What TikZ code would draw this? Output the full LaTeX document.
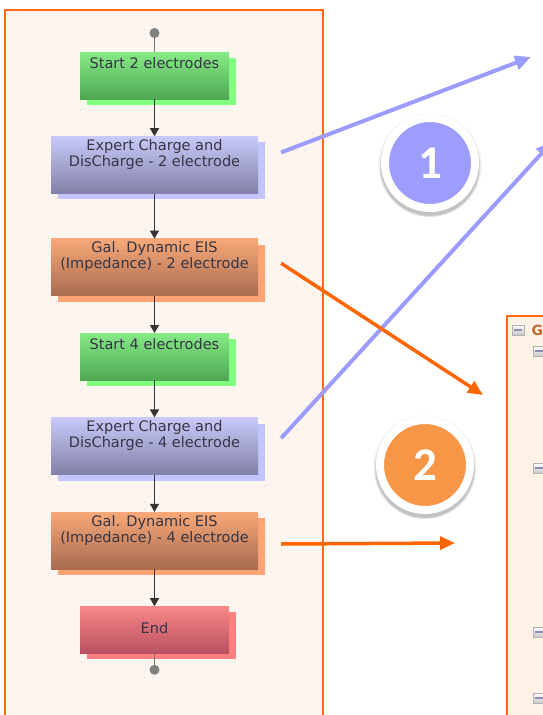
\documentclass[tikz,border=0pt]{standalone}
\usepackage{fontspec}
\setmainfont{DejaVu Sans}
\newfontfamily\badgefont{Carlito}
\usetikzlibrary{positioning,arrows.meta,shadows}

\definecolor{panelline}{HTML}{FF6A10}
\definecolor{panelfill}{HTML}{FDF6F0}
\definecolor{griddot}{HTML}{D9CFC8}
\definecolor{boxtext}{HTML}{353545}
\definecolor{greentop}{HTML}{86EA86}
\definecolor{greenbot}{HTML}{4FA852}
\definecolor{greenshade}{HTML}{80FF80}
\definecolor{bluetop}{HTML}{CACAFA}
\definecolor{bluebot}{HTML}{8080A8}
\definecolor{blueshade}{HTML}{C4C4FF}
\definecolor{orangetop}{HTML}{F8A878}
\definecolor{orangebot}{HTML}{A86C50}
\definecolor{orangeshade}{HTML}{FFA474}
\definecolor{redtop}{HTML}{F88888}
\definecolor{redbot}{HTML}{B85060}
\definecolor{redshade}{HTML}{FF8080}
\definecolor{linkblue}{HTML}{9C9CFF}
\definecolor{linkorange}{HTML}{FF6600}
\definecolor{badgeblue}{HTML}{9D9DFF}
\definecolor{badgeorange}{HTML}{F79646}
\definecolor{treefill}{HTML}{FEF2E7}
\definecolor{treetext}{HTML}{C0682A}

\tikzstyle{panel}=[draw=panelline,line width=2pt,fill=panelfill]
\tikzstyle{treepanel}=[draw=panelline,line width=2pt,fill=treefill]
\tikzstyle{box}=[rectangle,inner sep=0pt,align=center,text=boxtext,
   font=\fontsize{14.5}{16}\selectfont]
\tikzstyle{smallbox}=[box,minimum width=149pt,text height=16pt,text depth=31pt]
\tikzstyle{widebox}=[box,minimum width=207pt,text height=30pt,text depth=27pt]
\tikzstyle{gbox}=[smallbox,top color=greentop,bottom color=greenbot,
   drop shadow={shadow xshift=7pt,shadow yshift=-6pt,opacity=1,fill=greenshade}]
\tikzstyle{bbox}=[widebox,top color=bluetop,bottom color=bluebot,
   drop shadow={shadow xshift=7pt,shadow yshift=-6pt,opacity=1,fill=blueshade}]
\tikzstyle{obox}=[widebox,top color=orangetop,bottom color=orangebot,
   drop shadow={shadow xshift=7pt,shadow yshift=-6pt,opacity=1,fill=orangeshade}]
\tikzstyle{rbox}=[box,minimum width=149pt,text height=27pt,text depth=20pt,
   top color=redtop,bottom color=redbot,
   drop shadow={shadow xshift=7pt,shadow yshift=-6pt,opacity=1,fill=redshade}]
\tikzstyle{pin}=[circle,fill=black!50,minimum size=10pt,inner sep=0pt]
\tikzstyle{wire}=[draw=black!55,line width=1.3pt]
\tikzstyle{flow}=[draw=black!80,line width=1.3pt,-{Triangle[length=8pt,width=9pt]}]
\tikzstyle{bluelink}=[draw=linkblue,line width=4pt,-{Triangle[length=16pt,width=14pt]}]
\tikzstyle{orangelink}=[draw=linkorange,line width=3.5pt,-{Triangle[length=15pt,width=13pt]}]
\tikzstyle{badge}=[circle,draw=white,line width=8pt,minimum size=90pt,inner sep=0pt,
   text=white,font=\badgefont\bfseries\fontsize{47}{47}\selectfont,
   drop shadow={shadow xshift=0pt,shadow yshift=-2pt,shadow scale=1.15,
   opacity=0.05,fill=black},
   drop shadow={shadow xshift=0pt,shadow yshift=-3pt,shadow scale=1.12,
   opacity=0.08,fill=black},
   drop shadow={shadow xshift=0pt,shadow yshift=-3pt,shadow scale=1.10,
   opacity=0.12,fill=black}]
\tikzstyle{fold}=[rectangle,draw=black!30,top color=white,bottom color=black!22,
   minimum width=12pt,minimum height=10pt,inner sep=0pt,
   path picture={\draw[draw=blue!35!black!45,line width=1.2pt]
      ([xshift=2pt]path picture bounding box.west) --
      ([xshift=-2pt]path picture bounding box.east);}]

\begin{document}
\begin{tikzpicture}[x=1pt,y=-1pt,node distance=37pt]

   \useasboundingbox (0,0) rectangle (543,715);
   \clip (0,0) rectangle (543,715);
   \fill[white] (0,0) rectangle (543,715);

   % Sequence panel

   \draw[panel] (5,10) rectangle (323,740);
   \fill[griddot] \foreach \x in {9,17,...,321} {\foreach \y in {14,22,...,715}
      {(\x,\y) circle[radius=0.6pt]}};

   \node[pin] (top) at (154.5,33) {};
   \node[gbox] (start2) at (154.5,75.5) {Start 2 electrodes};
   \node[bbox,below=of start2] (exp2) {Expert Charge and\\DisCharge - 2 electrode};
   \node[obox,below=45pt of exp2] (gal2) {Gal. Dynamic EIS\\(Impedance) - 2 electrode};
   \node[gbox,below=of gal2] (start4) {Start 4 electrodes};
   \node[bbox,below=of start4] (exp4) {Expert Charge and\\DisCharge - 4 electrode};
   \node[obox,below=of exp4] (gal4) {Gal. Dynamic EIS\\(Impedance) - 4 electrode};
   \node[rbox,below=of gal4] (end) {End};
   \node[pin,below=11pt of end] (bottom) {};

   \draw[wire] (top) -- (start2);
   \draw[flow] (start2) -- (exp2);
   \draw[flow] (exp2) -- (gal2);
   \draw[flow] (gal2) -- (start4);
   \draw[flow] (start4) -- (exp4);
   \draw[flow] (exp4) -- (gal4);
   \draw[flow] (gal4) -- (end);
   \draw[wire] (end) -- (bottom);

   % Tree panel

   \draw[treepanel] (507,316) rectangle (580,740);
   \node[fold] (g0) at (518,330) {};
   \node[anchor=west,text=treetext,font=\bfseries\fontsize{14}{14}\selectfont]
      (gname) at (528,330) {G};
   \node[fold] (g1) at (539,351) {};
   \node[fold] (g2) at (539,468) {};
   \node[fold] (g3) at (539,632) {};
   \node[fold] (g4) at (539,698) {};

   % Links

   \coordinate (tgt1) at (531,57);
   \coordinate (tgt2) at (552,142);
   \coordinate (tgt3) at (483,395);
   \coordinate (tgt4) at (455,543);

   \draw[bluelink] ([xshift=23pt,yshift=12.5pt]exp2.east) -- (tgt1);
   \draw[bluelink] ([xshift=23pt,yshift=8pt]exp4.east) -- (tgt2);
   \draw[orangelink] ([xshift=23pt,yshift=4pt]gal2.east) -- (tgt3);
   \draw[orangelink] ([xshift=23pt,yshift=-3.5pt]gal4.east) -- (tgt4);

   \node[badge,fill=badgeblue] (one) at (430,163) {1};
   \node[badge,fill=badgeorange] (two) at (425,465) {2};

\end{tikzpicture}
\end{document}
